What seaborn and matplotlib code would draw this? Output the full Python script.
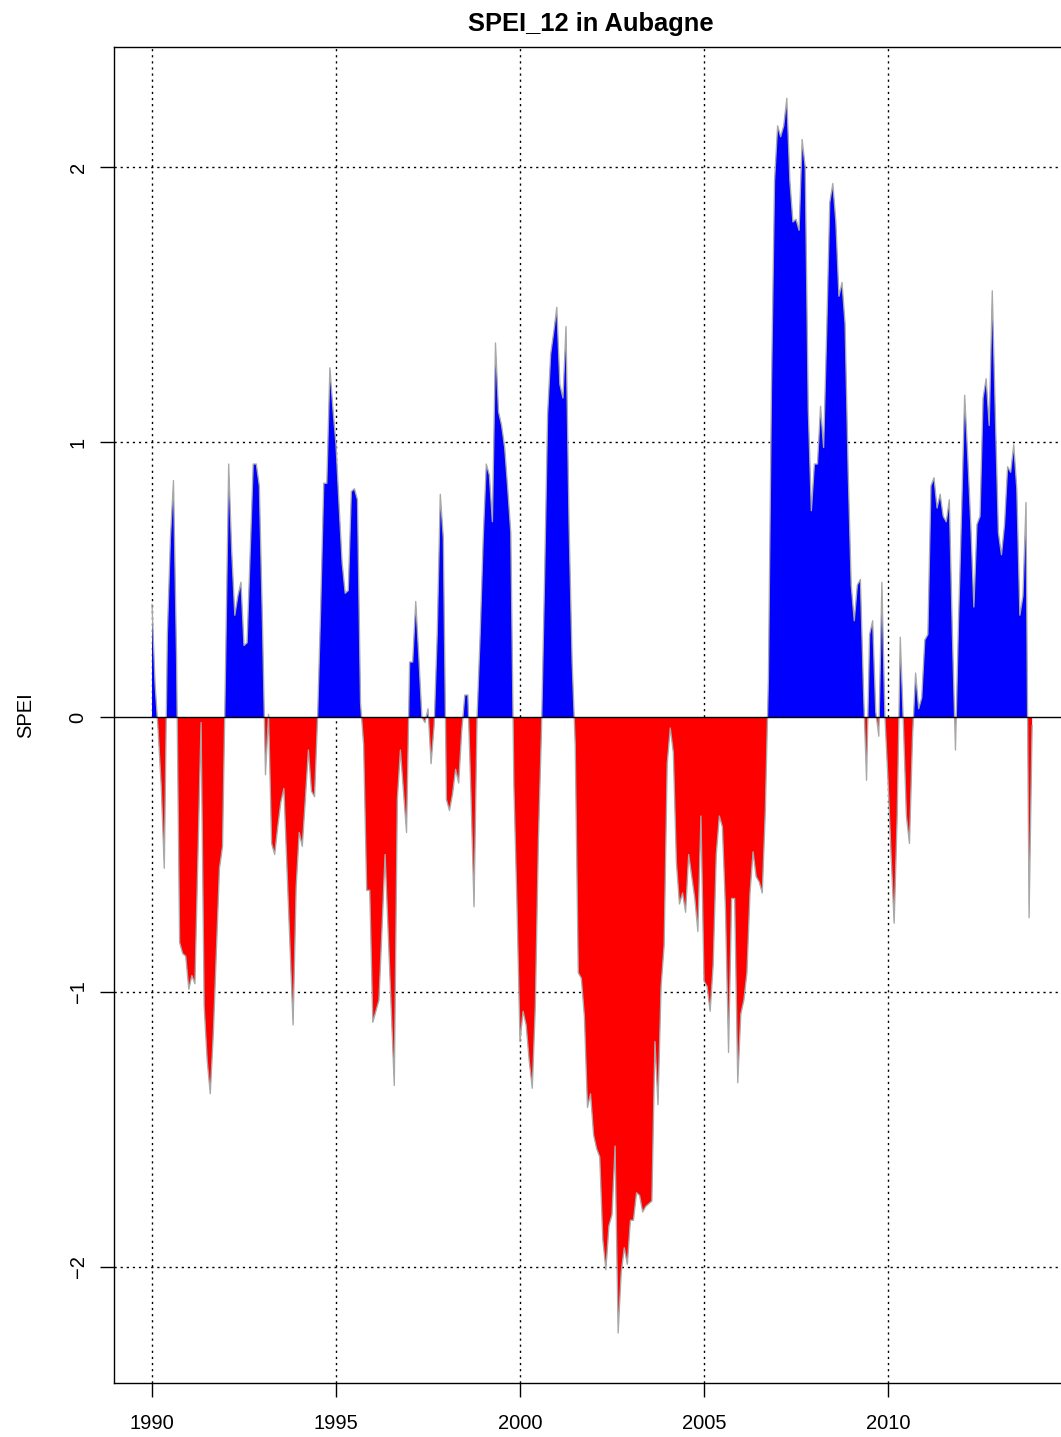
import numpy as np
import pandas as pd
import matplotlib
matplotlib.use("Agg")
import matplotlib.pyplot as plt
from matplotlib.ticker import FixedLocator, FuncFormatter
import seaborn as sns

# Monthly SPEI-12 values for Aubagne, one list per calendar year (Jan..Dec)
spei_1990 = [0.41, 0.12, -0.05, -0.25, -0.55, 0.30, 0.65, 0.86, 0.22, -0.82, -0.86, -0.87]
spei_1991 = [-0.99, -0.94, -0.97, -0.50, -0.02, -1.05, -1.25, -1.37, -1.15, -0.85, -0.55, -0.47]
spei_1992 = [0.20, 0.92, 0.60, 0.37, 0.44, 0.49, 0.26, 0.27, 0.60, 0.92, 0.92, 0.84]
spei_1993 = [0.35, -0.21, 0.01, -0.46, -0.50, -0.40, -0.31, -0.26, -0.55, -0.84, -1.12, -0.62]
spei_1994 = [-0.42, -0.47, -0.30, -0.12, -0.27, -0.29, 0.00, 0.40, 0.85, 0.85, 1.27, 1.12]
spei_1995 = [0.99, 0.77, 0.56, 0.45, 0.46, 0.82, 0.83, 0.79, 0.05, -0.10, -0.63, -0.63]
spei_1996 = [-1.11, -1.07, -1.03, -0.77, -0.50, -0.78, -1.07, -1.34, -0.30, -0.12, -0.27, -0.42]
spei_1997 = [0.20, 0.20, 0.42, 0.22, 0.00, -0.02, 0.03, -0.17, -0.03, 0.30, 0.81, 0.65]
spei_1998 = [-0.30, -0.34, -0.28, -0.19, -0.24, -0.05, 0.08, 0.08, -0.28, -0.69, 0.00, 0.30]
spei_1999 = [0.65, 0.92, 0.88, 0.71, 1.36, 1.11, 1.06, 0.98, 0.83, 0.67, -0.25, -0.68]
spei_2000 = [-1.18, -1.07, -1.12, -1.25, -1.35, -1.05, -0.45, -0.05, 0.50, 1.10, 1.32, 1.40]
spei_2001 = [1.49, 1.21, 1.16, 1.42, 0.70, 0.20, -0.10, -0.93, -0.95, -1.09, -1.42, -1.37]
spei_2002 = [-1.52, -1.57, -1.60, -1.90, -2.01, -1.85, -1.81, -1.56, -2.24, -2.02, -1.93, -1.99]
spei_2003 = [-1.83, -1.83, -1.73, -1.74, -1.80, -1.78, -1.77, -1.76, -1.18, -1.41, -0.98, -0.83]
spei_2004 = [-0.17, -0.04, -0.13, -0.53, -0.68, -0.64, -0.71, -0.50, -0.58, -0.66, -0.78, -0.36]
spei_2005 = [-0.96, -0.98, -1.07, -0.90, -0.50, -0.36, -0.40, -0.70, -1.22, -0.66, -0.66, -1.33]
spei_2006 = [-1.08, -1.03, -0.93, -0.64, -0.49, -0.58, -0.60, -0.64, -0.34, 0.14, 1.20, 1.95]
spei_2007 = [2.15, 2.11, 2.15, 2.25, 1.95, 1.80, 1.81, 1.77, 2.10, 2.00, 1.12, 0.75]
spei_2008 = [0.92, 0.92, 1.13, 0.98, 1.40, 1.87, 1.94, 1.80, 1.53, 1.58, 1.43, 0.90]
spei_2009 = [0.48, 0.35, 0.48, 0.50, 0.10, -0.23, 0.30, 0.35, 0.02, -0.07, 0.49, 0.00]
spei_2010 = [-0.23, -0.50, -0.75, -0.36, 0.29, -0.02, -0.36, -0.46, -0.07, 0.16, 0.03, 0.07]
spei_2011 = [0.28, 0.30, 0.84, 0.87, 0.76, 0.81, 0.73, 0.71, 0.79, 0.30, -0.12, 0.35]
spei_2012 = [0.75, 1.17, 0.95, 0.70, 0.40, 0.70, 0.73, 1.16, 1.23, 1.06, 1.55, 1.10]
spei_2013 = [0.67, 0.59, 0.70, 0.91, 0.89, 0.99, 0.83, 0.37, 0.44, 0.78, -0.73, -0.03]

years_data = [spei_1990, spei_1991, spei_1992, spei_1993, spei_1994, spei_1995,
              spei_1996, spei_1997, spei_1998, spei_1999, spei_2000, spei_2001,
              spei_2002, spei_2003, spei_2004, spei_2005, spei_2006, spei_2007,
              spei_2008, spei_2009, spei_2010, spei_2011, spei_2012, spei_2013]
start_year = 1990

x_ticks = [1990, 1995, 2000, 2005, 2010]
y_ticks = [-2, -1, 0, 1, 2]
title_text = "SPEI_12 in Aubagne"
y_label = "SPEI"

values = np.concatenate([np.asarray(v, dtype=float) for v in years_data])
time = start_year + np.arange(len(values)) / 12.0
df = pd.DataFrame({"time": time, "spei": values})

sns.set_style("ticks")
plt.rcParams["font.family"] = ["Liberation Sans", "DejaVu Sans"]
plt.rcParams["axes.unicode_minus"] = True

W, H = 1061, 1437
fig = plt.figure(figsize=(W / 100, H / 100), dpi=100)
ax_left, ax_right, ax_top, ax_bottom = 114, 1067, 47, 1383
ax = fig.add_axes([ax_left / W, 1 - ax_bottom / H,
                   (ax_right - ax_left) / W, (ax_bottom - ax_top) / H])

# dotted reference grid, beneath the filled areas
grid_style = dict(color="black", lw=1.0, linestyle=(0, (1.6, 2.8)), zorder=0.5)
for xv in x_ticks:
    ax.axvline(xv, **grid_style)
for yv in y_ticks:
    if yv != 0:
        ax.axhline(yv, **grid_style)

# wet (positive) and dry (negative) periods
ax.fill_between(df["time"], df["spei"], 0, where=df["spei"] >= 0,
                interpolate=True, color="#0000FF", linewidth=0, zorder=2)
ax.fill_between(df["time"], df["spei"], 0, where=df["spei"] <= 0,
                interpolate=True, color="#FF0000", linewidth=0, zorder=2)

sns.lineplot(data=df, x="time", y="spei", color="#a8a8a8", linewidth=0.95,
             ax=ax, zorder=3)

ax.axhline(0, color="black", lw=1.0, zorder=4)

ax.set_xlim(1988.967, 2014.864)
ax.set_ylim(-2.4218, 2.4364)

ax.xaxis.set_major_locator(FixedLocator(x_ticks))
ax.yaxis.set_major_locator(FixedLocator(y_ticks))
ax.xaxis.set_major_formatter(FuncFormatter(lambda v, p: f"{int(round(v))}"))
ax.yaxis.set_major_formatter(
    FuncFormatter(lambda v, p: f"\u2212{abs(int(round(v)))}" if v < 0 else f"{int(round(v))}"))

ax.tick_params(axis="both", direction="out", length=10, width=1.0,
               labelsize=14.5, color="black", labelcolor="black")
ax.tick_params(axis="x", pad=12)
ax.tick_params(axis="y", pad=9, labelrotation=90)
for lab in ax.get_yticklabels():
    lab.set_verticalalignment("center")

for sp in ax.spines.values():
    sp.set_visible(True)
    sp.set_color("black")
    sp.set_linewidth(1.0)

ax.set_xlabel("")
ax.set_ylabel(y_label, fontsize=14.5, color="black")
ax.yaxis.set_label_coords((35 - ax_left) / (ax_right - ax_left), 0.5)

ax.set_title(title_text, fontsize=18.4, fontweight="bold", pad=11.5, color="black")

fig.savefig("out.png", dpi=100)
